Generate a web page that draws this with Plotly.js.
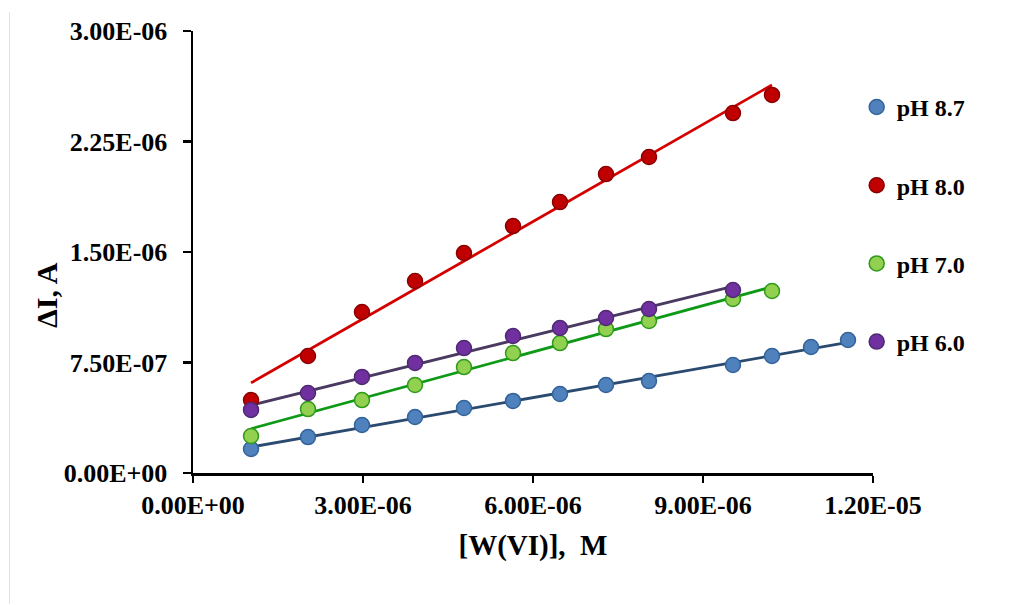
<!DOCTYPE html>
<html>
<head>
<meta charset="utf-8">
<script src="https://cdn.plot.ly/plotly-3.0.1.min.js"></script>
<style>
html,body{margin:0;padding:0;background:#fff;}
#chart{width:1014px;height:605px;}
</style>
</head>
<body>
<div id="chart"></div>
<script>
// Concentrations of W(VI), M
const xAll = [1.024e-6, 2.029e-6, 2.982e-6, 3.918e-6, 4.782e-6, 5.647e-6, 6.476e-6, 7.288e-6, 8.047e-6, 9.529e-6, 10.218e-6, 10.906e-6, 11.559e-6];

const x_pH87 = xAll.slice(0, 13);
const y_pH87 = [0.163e-6, 0.244e-6, 0.326e-6, 0.380e-6, 0.441e-6, 0.489e-6, 0.536e-6, 0.597e-6, 0.624e-6, 0.733e-6, 0.794e-6, 0.855e-6, 0.903e-6];

const x_pH80 = xAll.slice(0, 11);
const y_pH80 = [0.495e-6, 0.794e-6, 1.093e-6, 1.303e-6, 1.493e-6, 1.676e-6, 1.839e-6, 2.029e-6, 2.145e-6, 2.443e-6, 2.566e-6];

const x_pH70 = xAll.slice(0, 11);
const y_pH70 = [0.251e-6, 0.434e-6, 0.495e-6, 0.597e-6, 0.719e-6, 0.814e-6, 0.882e-6, 0.977e-6, 1.032e-6, 1.181e-6, 1.235e-6];

const x_pH60 = xAll.slice(0, 10);
const y_pH60 = [0.428e-6, 0.543e-6, 0.652e-6, 0.747e-6, 0.848e-6, 0.930e-6, 0.984e-6, 1.052e-6, 1.113e-6, 1.242e-6];

const seriesNames = ["pH 8.7", "pH 8.0", "pH 7.0", "pH 6.0"];

const xTickVals = [0, 3e-6, 6e-6, 9e-6, 1.2e-5];
const xTickText = ["0.00E+00", "3.00E-06", "6.00E-06", "9.00E-06", "1.20E-05"];
const yTickVals = [0, 0.75e-6, 1.5e-6, 2.25e-6, 3e-6];
const yTickText = ["0.00E+00", "7.50E-07", "1.50E-06", "2.25E-06", "3.00E-06"];

const xTitle = "[W(VI)],  M";
const yTitle = "ΔI, A";

function linFit(xs, ys) {
  const n = xs.length;
  let sx = 0, sy = 0, sxx = 0, sxy = 0;
  for (let i = 0; i < n; i++) { sx += xs[i]; sy += ys[i]; sxx += xs[i]*xs[i]; sxy += xs[i]*ys[i]; }
  const b = (n*sxy - sx*sy) / (n*sxx - sx*sx);
  const a = (sy - b*sx) / n;
  const x0 = xs[0], x1 = xs[n-1];
  return {x: [x0, x1], y: [a + b*x0, a + b*x1]};
}

const styles = [
  {fill: "#4f81bd", edge: "#34639a", line: "#2b4a70"},
  {fill: "#c00000", edge: "#8a0000", line: "#d40000"},
  {fill: "#92d050", edge: "#2f9a1a", line: "#0e9a16"},
  {fill: "#7030a0", edge: "#4f2a73", line: "#4a3a62"}
];
const xs = [x_pH87, x_pH80, x_pH70, x_pH60];
const ys = [y_pH87, y_pH80, y_pH70, y_pH60];

const traces = [];
for (let i = 0; i < 4; i++) {
  const f = linFit(xs[i], ys[i]);
  traces.push({
    x: f.x, y: f.y, mode: "lines", type: "scatter", showlegend: false, hoverinfo: "skip",
    line: {color: styles[i].line, width: 2.8}
  });
}
for (let i = 0; i < 4; i++) {
  traces.push({
    x: xs[i], y: ys[i], mode: "markers", type: "scatter", name: seriesNames[i],
    legendgroup: "g" + i,
    marker: {size: 15, color: styles[i].fill, line: {color: styles[i].edge, width: 1.5}}
  });
}

const fontFam = "Liberation Serif, Times New Roman, serif";
const layout = {
  width: 1014, height: 605,
  margin: {l: 193, r: 141, t: 31, b: 132},
  paper_bgcolor: "#ffffff", plot_bgcolor: "#ffffff",
  font: {family: fontFam, color: "#000"},
  xaxis: {
    range: [0, 1.2e-5], tickvals: xTickVals, ticktext: xTickText,
    showgrid: false, zeroline: false, showline: true, linecolor: "#000", linewidth: 2.5,
    ticks: "outside", ticklen: 7, tickwidth: 2.5, tickcolor: "#000",
    ticklabelstandoff: 0,
    tickfont: {family: fontFam, size: 26, color: "#000", weight: "bold"},
    title: {text: "<b>" + xTitle + "</b>", font: {family: fontFam, size: 29, color: "#000"}, standoff: 16}
  },
  yaxis: {
    range: [0, 3e-6], tickvals: yTickVals, ticktext: yTickText,
    showgrid: false, zeroline: false, showline: true, linecolor: "#000", linewidth: 2.5,
    ticks: "outside", ticklen: 8, tickwidth: 2.5, tickcolor: "#000",
    ticklabelstandoff: 10,
    tickfont: {family: fontFam, size: 26, color: "#000", weight: "bold"}
  },
  annotations: [{
    text: "<b>" + yTitle + "</b>", textangle: -90, showarrow: false,
    xref: "paper", yref: "paper", x: (46 - 193) / 680, y: (473 - 295) / 442,
    xanchor: "center", yanchor: "middle",
    font: {family: fontFam, size: 30, color: "#000"}
  }],
  legend: {
    x: 0.976, xanchor: "left", y: 0.878, yanchor: "top",
    font: {family: fontFam, size: 24, color: "#000", weight: "bold"},
    tracegroupgap: 44, bgcolor: "rgba(0,0,0,0)", itemwidth: 30
  },
  shapes: [{
    type: "line", xref: "paper", yref: "paper",
    x0: (9.5 - 193) / 680, x1: (9.5 - 193) / 680, y0: 1 + (31 - 12) / 442, y1: -(604 - 473) / 442,
    line: {color: "#e3e3e3", width: 1}
  }],
  showlegend: true
};

Plotly.newPlot("chart", traces, layout, {staticPlot: true, displayModeBar: false});
</script>
</body>
</html>
